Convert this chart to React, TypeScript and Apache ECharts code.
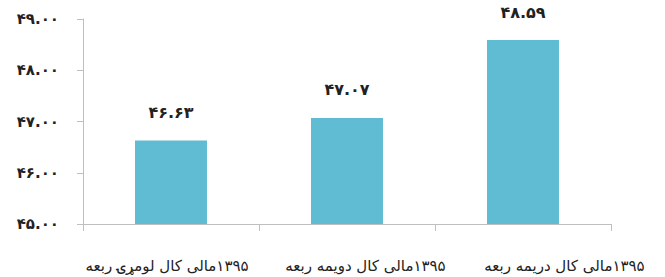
import React, { useEffect, useRef } from "react";
import * as echarts from "echarts";

const categories = [
  "۱۳۹۵مالی کال لومړۍ ربعه",
  "۱۳۹۵مالی کال دویمه ربعه",
  "۱۳۹۵مالی کال دریمه ربعه",
];
const values = [46.63, 47.07, 48.59];
const yMin = 45;
const yMax = 49;
const yInterval = 1;

const persianDigits = "۰۱۲۳۴۵۶۷۸۹";
const toPersian = (n: number) =>
  n.toFixed(2).replace(/[0-9]/g, (d) => persianDigits[Number(d)]);

const FONT = "DejaVu Sans";
const RLI = "\u2067";
const PDI = "\u2069";

export default function App() {
  const ref = useRef<HTMLDivElement>(null);
  useEffect(() => {
    if (!ref.current) return;
    const chart = echarts.init(ref.current, undefined, { renderer: "svg" });
    const rich = (pad: number[]) => ({
      fontFamily: FONT,
      fontSize: 15,
      color: "#222",
      padding: pad,
    });
    chart.setOption({
      animation: false,
      backgroundColor: "#ffffff",
      grid: { left: 83, right: 54, top: 19, bottom: 53, containLabel: false },
      xAxis: {
        type: "category",
        data: categories,
        axisLine: { show: true, lineStyle: { color: "#bfbfbf", width: 1 } },
        axisTick: { show: true, length: 7, lineStyle: { color: "#bfbfbf" } },
        axisLabel: {
          interval: 0,
          margin: 34,
          fontFamily: FONT,
          fontSize: 15,
          color: "#222",
          formatter: (v: string, i: number) => `{c${i}|${RLI}${v}${PDI}}`,
          rich: {
            c0: rich([0, 8, 0, 0]),
            c1: rich([0, 0, 0, 37]),
            c2: rich([0, 0, 0, 83]),
          },
        },
      },
      yAxis: {
        type: "value",
        min: yMin,
        max: yMax,
        interval: yInterval,
        axisLine: { show: true, lineStyle: { color: "#bfbfbf", width: 1 } },
        axisTick: { show: true, length: 6, lineStyle: { color: "#bfbfbf" } },
        splitLine: { show: false },
        axisLabel: {
          margin: 24,
          fontFamily: FONT,
          fontSize: 15,
          fontWeight: "bold",
          color: "#222",
          formatter: (v: number) => toPersian(v),
        },
      },
      series: [
        {
          type: "bar",
          data: values,
          barWidth: 72,
          itemStyle: { color: "#5fbcd3" },
          label: {
            show: true,
            position: "top",
            distance: 20,
            fontFamily: FONT,
            fontSize: 16,
            fontWeight: "bold",
            color: "#222",
            formatter: (p: any) => toPersian(p.value),
          },
        },
      ],
    });
    return () => chart.dispose();
  }, []);
  return <div ref={ref} style={{ width: 665, height: 277, position: "absolute", left: 0, top: 0 }} />;
}
